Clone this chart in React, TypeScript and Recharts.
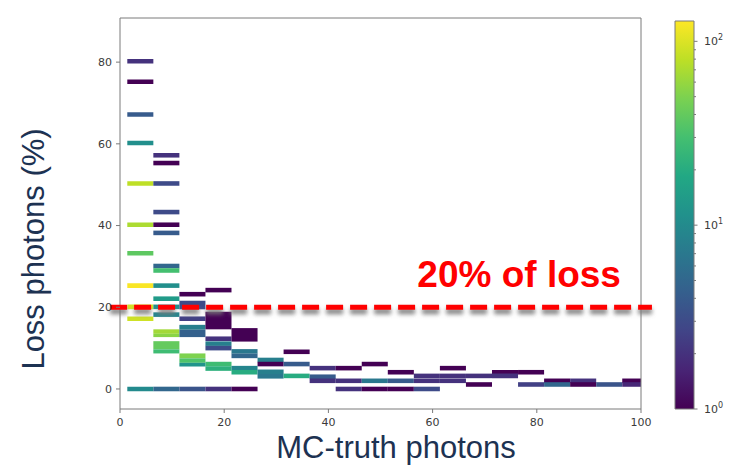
import {
  ScatterChart,
  Scatter,
  XAxis,
  YAxis,
  ReferenceArea,
  ReferenceLine,
} from "recharts";

const xTicks = [0, 20, 40, 60, 80, 100];
const yTicks = [0, 20, 40, 60, 80];
const cbMajorTicks = [1, 10, 100];
const cbMinorTicks = [2, 3, 4, 5, 6, 7, 8, 9, 20, 30, 40, 50, 60, 70, 80, 90];

const X_DOMAIN: [number, number] = [0, 100];
const Y_DOMAIN: [number, number] = [-4.9, 90.8];
const X_FIRST_EDGE = 1.4;
const X_BIN_WIDTH = 5;
const ROW_HEIGHT = 1.12;
const COUNT_MIN = 1;
const COUNT_MAX = 129;
const LOSS_CUT = 20;

// single histogram rows: [x bin, loss % (row centre), entries]
const rows: [number, number, number][] = [
  [0, 80.2, 2], [0, 75.2, 1], [0, 67.2, 4], [0, 60.2, 11], [0, 50.3, 80],
  [0, 40.2, 70], [0, 33.2, 38], [0, 25.3, 125], [0, 20.1, 95], [0, 17.2, 90],
  [0, 0, 10],
  [1, 57.2, 2], [1, 55.3, 1], [1, 50.3, 3], [1, 43.3, 3], [1, 40.2, 1],
  [1, 38.2, 4], [1, 30.1, 5], [1, 29.0, 30], [1, 25.3, 11], [1, 22.1, 14],
  [1, 20.1, 11], [1, 18.2, 9], [1, 0, 5],
  [2, 23.2, 1], [2, 17.2, 2.5], [2, 0, 3.5],
  [3, 24.2, 1], [3, 12.3, 2], [3, 11.1, 8], [3, 10.0, 3], [3, 6.1, 28],
  [3, 5.0, 22], [3, 0, 2],
  [4, 9.2, 7], [4, 8.1, 5], [4, 5.1, 9], [4, 4.1, 20], [4, 0, 1],
  [5, 7.1, 8], [5, 6.1, 1], [5, 4.2, 8], [5, 3.1, 7],
  [6, 9.1, 1], [6, 6.1, 4], [6, 3.2, 20],
  [7, 5.1, 2], [7, 3.0, 4], [7, 2.0, 2],
  [8, 5.1, 1], [8, 2.0, 2], [8, 0, 2],
  [9, 6.1, 1], [9, 2.0, 7], [9, 0, 1],
  [10, 4.1, 1], [10, 2.0, 4], [10, 0, 1],
  [11, 3.2, 2], [11, 2.0, 2], [11, 0, 3],
  [12, 5.1, 1], [12, 3.2, 2], [12, 2.0, 2],
  [13, 3.2, 2], [13, 1.1, 1],
  [14, 4.1, 1], [14, 3.2, 2],
  [15, 4.1, 1], [15, 1.1, 2.5],
  [16, 2.0, 1], [16, 1.1, 5],
  [17, 2.0, 2], [17, 1.1, 1],
  [18, 1.1, 3.5],
  [19, 2.0, 1], [19, 1.1, 1.7],
];

// runs of neighbouring rows with the same entries: [x bin, loss low, loss high, entries]
const blocks: [number, number, number, number][] = [
  [1, 13.5, 14.6, 65], [1, 12.7, 13.5, 55], [1, 9.7, 11.7, 40], [1, 8.7, 9.7, 28],
  [2, 19.5, 21.6, 3], [2, 14.5, 15.7, 8], [2, 12.7, 14.5, 4.5],
  [2, 7.5, 8.7, 50], [2, 6.4, 7.5, 33], [2, 5.5, 6.4, 12],
  [3, 14.6, 18.9, 1],
  [4, 11.6, 14.9, 1],
];

const viridis = [
  "#440154", "#482475", "#414487", "#355f8d", "#2a788e", "#21918c",
  "#22a884", "#44bf70", "#7ad151", "#bddf26", "#fde725",
];

const hexToRgb = (h: string) => [
  parseInt(h.slice(1, 3), 16),
  parseInt(h.slice(3, 5), 16),
  parseInt(h.slice(5, 7), 16),
];

// log-normalised viridis lookup, same norm as the colour bar
function countColor(c: number) {
  const t = Math.min(
    1,
    Math.max(0, Math.log10(c / COUNT_MIN) / Math.log10(COUNT_MAX / COUNT_MIN))
  );
  const p = t * (viridis.length - 1);
  const i = Math.min(Math.floor(p), viridis.length - 2);
  const f = p - i;
  const a = hexToRgb(viridis[i]);
  const b = hexToRgb(viridis[i + 1]);
  const mix = a.map((v, k) => Math.round(v + (b[k] - v) * f));
  return `rgb(${mix[0]},${mix[1]},${mix[2]})`;
}

const cells = [
  ...rows.map(([bin, y, c]) => ({
    bin,
    lo: y - ROW_HEIGHT / 2,
    hi: y + ROW_HEIGHT / 2,
    c,
  })),
  ...blocks.map(([bin, lo, hi, c]) => ({ bin, lo, hi, c })),
];

const binCentres = cells.map((cell) => ({
  x: X_FIRST_EDGE + (cell.bin + 0.5) * X_BIN_WIDTH,
  y: (cell.lo + cell.hi) / 2,
  count: cell.c,
}));

const tickFont = {
  fill: "#3a3a3a",
  fontSize: 11,
  fontFamily: "DejaVu Sans, sans-serif",
};
const titleFont = "Liberation Sans, Arial, sans-serif";
const titleColor = "#1d3252";
const spine = "#7a7a7a";

function CutLine(props: any) {
  const { x1, y1, x2, y2 } = props;
  return (
    <g>
      <line
        x1={x1}
        y1={y1 + 4}
        x2={x2}
        y2={y2 + 4}
        stroke="#7a7a7a"
        strokeOpacity={0.9}
        strokeWidth={6}
        strokeDasharray="17 7"
        filter="url(#cutShadow)"
      />
      <line
        x1={x1}
        y1={y1}
        x2={x2}
        y2={y2}
        stroke="#ff0000"
        strokeWidth={5}
        strokeDasharray="17 7"
      />
      <text
        x={x2 - 31}
        y={y1 - 20}
        textAnchor="end"
        fill="#ff0000"
        fontFamily={titleFont}
        fontWeight="bold"
        fontSize={37}
      >
        20% of loss
      </text>
    </g>
  );
}

function ColorbarTick(props: any) {
  const { x, y, payload } = props;
  const v = payload.value;
  const exp = Math.round(Math.log10(v));
  const major = Math.abs(Math.pow(10, exp) - v) < 1e-9;
  return (
    <g>
      <line x1={x} y1={y} x2={x + (major ? 3.5 : 2)} y2={y} stroke={spine} />
      {major && (
        <text
          x={x + 10}
          y={y}
          dy="0.355em"
          fill={tickFont.fill}
          fontSize={11}
          fontFamily={tickFont.fontFamily}
        >
          10
          <tspan dy={-5} fontSize={8}>
            {exp}
          </tspan>
        </text>
      )}
    </g>
  );
}

export default function App() {
  return (
    <div
      style={{
        position: "absolute",
        left: 0,
        top: 0,
        width: 730,
        height: 465,
        background: "#ffffff",
      }}
    >
      <div style={{ position: "absolute", left: 0, top: 0 }}>
        <ScatterChart
          width={730}
          height={465}
          margin={{ top: 18, right: 89, bottom: 0, left: 0 }}
        >
          <defs>
            <filter
              id="cutShadow"
              filterUnits="userSpaceOnUse"
              x={0}
              y={0}
              width={730}
              height={465}
            >
              <feGaussianBlur stdDeviation={2.2} />
            </filter>
          </defs>
          <XAxis
            type="number"
            dataKey="x"
            domain={X_DOMAIN}
            ticks={xTicks}
            interval={0}
            allowDataOverflow
            height={56}
            tickSize={4}
            tickMargin={5}
            tick={tickFont}
            stroke={spine}
            axisLine={false}
          />
          <YAxis
            type="number"
            dataKey="y"
            domain={Y_DOMAIN}
            ticks={yTicks}
            interval={0}
            allowDataOverflow
            width={120}
            tickSize={4}
            tickMargin={4}
            tick={tickFont}
            stroke={spine}
            axisLine={false}
          />
          {cells.map((cell, i) => (
            <ReferenceArea
              key={i}
              x1={X_FIRST_EDGE + cell.bin * X_BIN_WIDTH}
              x2={X_FIRST_EDGE + (cell.bin + 1) * X_BIN_WIDTH}
              y1={cell.lo}
              y2={cell.hi}
              fill={countColor(cell.c)}
              fillOpacity={1}
              stroke="none"
              ifOverflow="hidden"
            />
          ))}
          <Scatter
            data={binCentres}
            isAnimationActive={false}
            shape={() => <g />}
          />
          <ReferenceArea
            x1={X_DOMAIN[0]}
            x2={X_DOMAIN[1]}
            y1={Y_DOMAIN[0]}
            y2={Y_DOMAIN[1]}
            fill="none"
            stroke={spine}
            ifOverflow="visible"
          />
          <ReferenceLine
            segment={[
              { x: -1.9, y: LOSS_CUT },
              { x: 102.1, y: LOSS_CUT },
            ]}
            ifOverflow="visible"
            shape={CutLine}
          />
          <text
            x={44}
            y={249}
            transform="rotate(-90 44 249)"
            textAnchor="middle"
            fontSize={31}
            fontFamily={titleFont}
            fill={titleColor}
          >
            Loss photons (%)
          </text>
          <text
            x={396}
            y={458}
            textAnchor="middle"
            fontSize={31}
            fontFamily={titleFont}
            fill={titleColor}
          >
            MC-truth photons
          </text>
        </ScatterChart>
      </div>

      <div style={{ position: "absolute", left: 640, top: 0 }}>
        <ScatterChart
          width={90}
          height={465}
          margin={{ top: 21, right: 0, bottom: 56, left: 35 }}
        >
          <defs>
            <linearGradient id="viridisBar" x1="0" y1="1" x2="0" y2="0">
              {viridis.map((c, i) => (
                <stop
                  key={c}
                  offset={i / (viridis.length - 1)}
                  stopColor={c}
                />
              ))}
            </linearGradient>
          </defs>
          <XAxis type="number" dataKey="x" domain={[0, 1]} hide />
          <YAxis
            type="number"
            dataKey="y"
            scale="log"
            domain={[COUNT_MIN, COUNT_MAX]}
            allowDataOverflow
            orientation="right"
            width={36}
            ticks={[...cbMajorTicks, ...cbMinorTicks]}
            interval={0}
            tickSize={0}
            tickMargin={0}
            axisLine={false}
            tickLine={false}
            tick={ColorbarTick}
          />
          <ReferenceArea
            x1={0}
            x2={1}
            y1={COUNT_MIN}
            y2={COUNT_MAX}
            fill="url(#viridisBar)"
            fillOpacity={1}
            stroke={spine}
            ifOverflow="visible"
          />
          <Scatter
            data={cbMajorTicks.map((v) => ({ x: 0.5, y: v }))}
            isAnimationActive={false}
            shape={() => <g />}
          />
        </ScatterChart>
      </div>
    </div>
  );
}
